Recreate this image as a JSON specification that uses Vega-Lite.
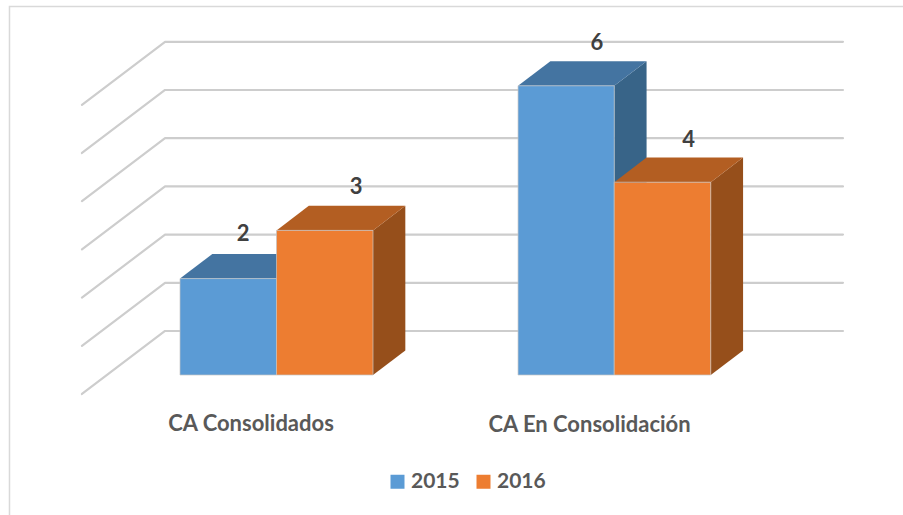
{
"$schema":"https://vega.github.io/schema/vega-lite/v6.json",
"width":903,"height":515,"padding":0,
"autosize":{"type":"none"},
"background":"white",
"view":{"stroke":null},
"datasets":{
"frame":[{"x":-1.767,"y":-2.905},{"x":-1.767,"y":7.645},{"x":7.492,"y":7.645}],
"grid":[
{"id":1,"x":-1.016,"y":-0.394},{"id":1,"x":-0.155,"y":0.913},{"id":1,"x":6.87,"y":0.913},
{"id":2,"x":-1.016,"y":0.606},{"id":2,"x":-0.155,"y":1.913},{"id":2,"x":6.87,"y":1.913},
{"id":3,"x":-1.016,"y":1.606},{"id":3,"x":-0.155,"y":2.913},{"id":3,"x":6.87,"y":2.913},
{"id":4,"x":-1.016,"y":2.606},{"id":4,"x":-0.155,"y":3.913},{"id":4,"x":6.87,"y":3.913},
{"id":5,"x":-1.016,"y":3.606},{"id":5,"x":-0.155,"y":4.913},{"id":5,"x":6.87,"y":4.913},
{"id":6,"x":-1.016,"y":4.606},{"id":6,"x":-0.155,"y":5.913},{"id":6,"x":6.87,"y":5.913},
{"id":7,"x":-1.016,"y":5.606},{"id":7,"x":-0.155,"y":6.913},{"id":7,"x":6.87,"y":6.913}],
"fronts":[
{"cat":"CA Consolidados","series":"2015","x":0,"x2":1,"y":2,"y2":0},
{"cat":"CA Consolidados","series":"2016","x":1,"x2":2,"y":3,"y2":0},
{"cat":"CA En Consolidación","series":"2015","x":3.503,"x2":4.5,"y":6,"y2":0},
{"cat":"CA En Consolidación","series":"2016","x":4.5,"x2":5.5,"y":4,"y2":0}],
"sides":[
{"id":"a","series":"2015","x":1,"y":2,"y2":0},{"id":"a","series":"2015","x":1.335,"y":2.51,"y2":0.51},
{"id":"b","series":"2016","x":2,"y":3,"y2":0},{"id":"b","series":"2016","x":2.335,"y":3.51,"y2":0.51},
{"id":"c","series":"2015","x":4.5,"y":6,"y2":0},{"id":"c","series":"2015","x":4.835,"y":6.51,"y2":0.51},
{"id":"d","series":"2016","x":5.5,"y":4,"y2":0},{"id":"d","series":"2016","x":5.835,"y":4.51,"y2":0.51}],
"tops":[
{"id":"a","series":"2015","x":0,"x2":1,"y":2},{"id":"a","series":"2015","x":0.335,"x2":1.335,"y":2.51},
{"id":"b","series":"2016","x":1,"x2":2,"y":3},{"id":"b","series":"2016","x":1.335,"x2":2.335,"y":3.51},
{"id":"c","series":"2015","x":3.503,"x2":4.5,"y":6},{"id":"c","series":"2015","x":3.838,"x2":4.835,"y":6.51},
{"id":"d","series":"2016","x":4.5,"x2":5.5,"y":4},{"id":"d","series":"2016","x":4.835,"x2":5.835,"y":4.51}],
"labels":[
{"x":0.653,"y":2.926,"t":"2"},{"x":1.824,"y":3.901,"t":"3"},{"x":4.321,"y":6.889,"t":"6"},{"x":5.27,"y":4.876,"t":"4"}],
"cats":[{"x":0.736,"y":-1.02,"t":"CA Consolidados"},{"x":4.244,"y":-1.037,"t":"CA En Consolidación"}]
},
"encoding":{
"x":{"field":"x","type":"quantitative","axis":null,"scale":{"domain":[-1.8653,7.4922],"nice":false,"zero":false}},
"y":{"field":"y","type":"quantitative","axis":null,"scale":{"domain":[-2.9046,7.7801],"nice":false,"zero":false}}
},
"layer":[
{"data":{"name":"frame"},"mark":{"type":"line","stroke":"#d9d9d9","strokeWidth":1.5,"clip":false},"encoding":{}},
{"data":{"name":"grid"},"mark":{"type":"line","stroke":"#cdcdcd","strokeWidth":2.2,"strokeCap":"round","strokeJoin":"round"},"encoding":{"detail":{"field":"id"}}},
{"data":{"name":"sides"},"transform":[{"filter":"datum.series==='2015'"}],"mark":{"type":"area","fill":"#386488","orient":"vertical"},"encoding":{"y2":{"field":"y2"},"detail":{"field":"id"}}},
{"data":{"name":"tops"},"transform":[{"filter":"datum.series==='2015'"}],"mark":{"type":"area","fill":"#4474a1","orient":"horizontal"},"encoding":{"x2":{"field":"x2"},"detail":{"field":"id"}}},
{"data":{"name":"fronts"},"transform":[{"filter":"datum.series==='2015'"}],"mark":{"type":"rect","stroke":"#c4c4c4","strokeWidth":1,"strokeOpacity":0.7},"encoding":{"x2":{"field":"x2"},"y2":{"field":"y2"},
"color":{"field":"series","type":"nominal","scale":{"domain":["2015","2016"],"range":["#5b9bd5","#ed7d31"]},
"legend":{"title":null,"orient":"none","legendX":387,"legendY":471,"direction":"horizontal","columns":2,"padding":0,"columnPadding":13,"symbolType":"square","symbolSize":196,"symbolStrokeWidth":0,"symbolOpacity":1,"labelFont":"Lato","labelFontWeight":"bold","labelFontSize":21,"labelColor":"#595959","labelOffset":3,"rowPadding":0}}}},
{"data":{"name":"sides"},"transform":[{"filter":"datum.series==='2016'"}],"mark":{"type":"area","fill":"#964f1b","orient":"vertical"},"encoding":{"y2":{"field":"y2"},"detail":{"field":"id"}}},
{"data":{"name":"tops"},"transform":[{"filter":"datum.series==='2016'"}],"mark":{"type":"area","fill":"#b35e22","orient":"horizontal"},"encoding":{"x2":{"field":"x2"},"detail":{"field":"id"}}},
{"data":{"name":"fronts"},"transform":[{"filter":"datum.series==='2016'"}],"mark":{"type":"rect","stroke":"#c4c4c4","strokeWidth":1,"strokeOpacity":0.7},"encoding":{"x2":{"field":"x2"},"y2":{"field":"y2"},
"color":{"field":"series","type":"nominal"}}},
{"data":{"name":"labels"},"mark":{"type":"text","font":"Lato","fontWeight":"bold","fontSize":22,"color":"#404040","align":"center","baseline":"middle"},"encoding":{"text":{"field":"t"}}},
{"data":{"name":"cats"},"mark":{"type":"text","font":"Lato","fontWeight":"bold","fontSize":22,"color":"#595959","align":"center","baseline":"middle"},"encoding":{"text":{"field":"t"}}}
]
}
